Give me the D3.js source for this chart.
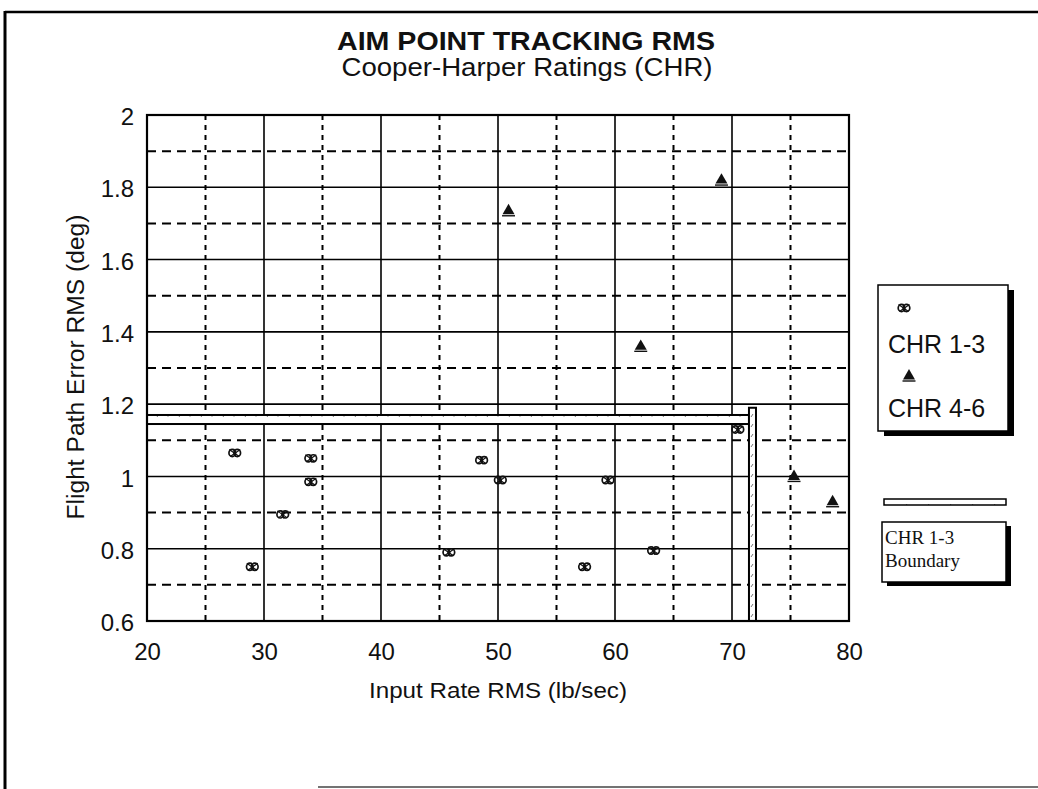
<!DOCTYPE html>
<html>
<head>
<meta charset="utf-8">
<script src="https://cdn.jsdelivr.net/npm/d3@7/dist/d3.min.js"></script>
<style>
  html, body { margin: 0; padding: 0; background: #fff; }
  svg { display: block; }
  text { font-family: "Liberation Sans", Arial, sans-serif; fill: #111; }
  text.serif { font-family: "Liberation Serif", "Times New Roman", serif; }
</style>
</head>
<body>
<svg id="chart" width="1038" height="789"></svg>
<script>
// ---- data ----
const chr13Rate  = [27.5, 29.0, 31.6, 34.0, 34.0, 45.8, 48.6, 50.2, 57.4, 59.4, 63.3, 70.5];
const chr13Error = [1.065, 0.75, 0.895, 1.05, 0.985, 0.79, 1.045, 0.99, 0.75, 0.99, 0.795, 1.13];
const chr46Rate  = [50.9, 62.2, 69.1, 75.3, 78.6];
const chr46Error = [1.735, 1.36, 1.82, 1.0, 0.93];
// CHR 1-3 boundary: error limit band and rate limit band
const boundaryErrorBand = [1.145, 1.17];
const boundaryRateBand  = [71.45, 72.05];
const boundaryRateTop   = 1.19;
const xTicks = [20, 30, 40, 50, 60, 70, 80];
const xMinor = [25, 35, 45, 55, 65, 75];
const yTicks = [0.6, 0.8, 1.0, 1.2, 1.4, 1.6, 1.8, 2.0];
const yMinor = [0.7, 0.9, 1.1, 1.3, 1.5, 1.7, 1.9];

const svg = d3.select("#chart");
const x = d3.scaleLinear().domain([20, 80]).range([147, 849]);
const y = d3.scaleLinear().domain([0.6, 2]).range([621, 115]);

// speckled fill used for the boundary bands
const defs = svg.append("defs");
const pat = defs.append("pattern").attr("id", "speck")
  .attr("patternUnits", "userSpaceOnUse").attr("width", 22).attr("height", 10);
pat.append("rect").attr("width", 22).attr("height", 10).attr("fill", "#fff");
pat.append("line").attr("x1", 3).attr("y1", 7).attr("x2", 5).attr("y2", 4)
  .attr("stroke", "#666").attr("stroke-width", 0.9);
pat.append("circle").attr("cx", 14).attr("cy", 6).attr("r", 0.7).attr("fill", "#777");

// page frame
svg.append("line").attr("x1", 5).attr("x2", 1038).attr("y1", 12).attr("y2", 12)
  .attr("stroke", "#000").attr("stroke-width", 2.5);
svg.append("line").attr("x1", 5).attr("x2", 5).attr("y1", 11).attr("y2", 789)
  .attr("stroke", "#000").attr("stroke-width", 3);
svg.append("line").attr("x1", 318).attr("x2", 1038).attr("y1", 787).attr("y2", 787)
  .attr("stroke", "#444").attr("stroke-width", 1.5);

// titles
svg.append("text").attr("x", 526).attr("y", 50).attr("text-anchor", "middle")
  .attr("font-size", 25).attr("font-weight", "bold")
  .attr("textLength", 378).attr("lengthAdjust", "spacingAndGlyphs")
  .text("AIM POINT TRACKING RMS");
svg.append("text").attr("x", 527).attr("y", 76).attr("text-anchor", "middle")
  .attr("font-size", 25)
  .attr("textLength", 371).attr("lengthAdjust", "spacingAndGlyphs")
  .text("Cooper-Harper Ratings (CHR)");

// grid
const grid = svg.append("g");
grid.selectAll(".vminor").data(xMinor).join("line")
  .attr("x1", d => x(d)).attr("x2", d => x(d)).attr("y1", y(2)).attr("y2", y(0.6))
  .attr("stroke", "#000").attr("stroke-width", 2).attr("stroke-dasharray", "5,5");
grid.selectAll(".hminor").data(yMinor).join("line")
  .attr("y1", d => y(d)).attr("y2", d => y(d)).attr("x1", x(20)).attr("x2", x(80))
  .attr("stroke", "#000").attr("stroke-width", 2).attr("stroke-dasharray", "9,6");
grid.selectAll(".vmajor").data(xTicks.slice(1, -1)).join("line")
  .attr("x1", d => x(d)).attr("x2", d => x(d)).attr("y1", y(2)).attr("y2", y(0.6))
  .attr("stroke", "#000").attr("stroke-width", 1.6);
grid.selectAll(".hmajor").data(yTicks.slice(1, -1)).join("line")
  .attr("y1", d => y(d)).attr("y2", d => y(d)).attr("x1", x(20)).attr("x2", x(80))
  .attr("stroke", "#000").attr("stroke-width", 1.6);

// boundary bands
svg.append("rect")
  .attr("x", x(20)).attr("width", x(boundaryRateBand[0]) - x(20))
  .attr("y", y(boundaryErrorBand[1])).attr("height", y(boundaryErrorBand[0]) - y(boundaryErrorBand[1]))
  .attr("fill", "url(#speck)").attr("stroke", "#000").attr("stroke-width", 2);
svg.append("rect")
  .attr("x", x(boundaryRateBand[0])).attr("width", x(boundaryRateBand[1]) - x(boundaryRateBand[0]))
  .attr("y", y(boundaryRateTop)).attr("height", y(0.6) - y(boundaryRateTop))
  .attr("fill", "url(#speck)").attr("stroke", "#000").attr("stroke-width", 2);

// plot frame
svg.append("rect").attr("x", x(20)).attr("y", y(2))
  .attr("width", x(80) - x(20)).attr("height", y(0.6) - y(2))
  .attr("fill", "none").attr("stroke", "#000").attr("stroke-width", 2.2);

// axes
const xAxis = svg.append("g").attr("transform", `translate(0,${y(0.6)})`)
  .call(d3.axisBottom(x).tickValues(xTicks).tickSize(0).tickPadding(22).tickFormat(d3.format("d")));
const yAxis = svg.append("g").attr("transform", `translate(${x(20)},0)`)
  .call(d3.axisLeft(y).tickValues(yTicks).tickSize(0).tickPadding(13).tickFormat(d => d3.format("")(d)));
[xAxis, yAxis].forEach(a => {
  a.select(".domain").remove();
  a.selectAll("text").attr("font-size", 24).attr("fill", "#111");
});
yAxis.selectAll("text").attr("dy", "0.40em");

svg.append("text").attr("x", 498).attr("y", 698).attr("text-anchor", "middle")
  .attr("font-size", 22).attr("textLength", 258).attr("lengthAdjust", "spacingAndGlyphs")
  .text("Input Rate RMS (lb/sec)");
svg.append("text").attr("transform", "translate(84,367) rotate(-90)").attr("text-anchor", "middle")
  .attr("font-size", 23).attr("textLength", 305).attr("lengthAdjust", "spacingAndGlyphs")
  .text("Flight Path Error RMS (deg)");

// markers
function hatchMarker(g) {
  g.append("ellipse").attr("cx", -2.5).attr("cy", 0).attr("rx", 3.3).attr("ry", 3.6)
    .attr("fill", "none").attr("stroke", "#111").attr("stroke-width", 1.7);
  g.append("ellipse").attr("cx", 2.5).attr("cy", 0).attr("rx", 3.3).attr("ry", 3.6)
    .attr("fill", "none").attr("stroke", "#111").attr("stroke-width", 1.7);
  g.append("path").attr("d", "M-5.5,-3.5L4.5,3.5M-4.5,3.5L5.5,-3.5M-1,-4L1,4")
    .attr("stroke", "#111").attr("stroke-width", 1.2);
}
const tri = d3.symbol().type(d3.symbolTriangle).size(62);
function triMarker(g) {
  g.append("path").attr("d", tri()).attr("fill", "#111");
  g.append("path").attr("d", "M-6.5,5H6.5").attr("stroke", "#111").attr("stroke-width", 1.4);
}

const pts13 = chr13Rate.map((r, i) => ({ r, e: chr13Error[i] }));
const pts46 = chr46Rate.map((r, i) => ({ r, e: chr46Error[i] }));
svg.append("g").selectAll("g").data(pts13).join("g")
  .attr("transform", d => `translate(${x(d.r)},${y(d.e)})`)
  .each(function () { hatchMarker(d3.select(this)); });
svg.append("g").selectAll("g").data(pts46).join("g")
  .attr("transform", d => `translate(${x(d.r)},${y(d.e)})`)
  .each(function () { triMarker(d3.select(this)); });

// legend: series
const lg = svg.append("g");
lg.append("rect").attr("x", 884).attr("y", 290).attr("width", 130).attr("height", 146).attr("fill", "#000");
lg.append("rect").attr("x", 878).attr("y", 285).attr("width", 130).attr("height", 146)
  .attr("fill", "#fff").attr("stroke", "#000").attr("stroke-width", 1.5);
hatchMarker(lg.append("g").attr("transform", "translate(904,308)"));
lg.append("text").attr("x", 888).attr("y", 353).attr("font-size", 25).text("CHR 1-3");
triMarker(lg.append("g").attr("transform", "translate(909,376)"));
lg.append("text").attr("x", 888).attr("y", 417).attr("font-size", 25).text("CHR 4-6");

// legend: boundary
const lb = svg.append("g");
lb.append("rect").attr("x", 884).attr("y", 499).attr("width", 122).attr("height", 6)
  .attr("fill", "url(#speck)").attr("stroke", "#000").attr("stroke-width", 1.5);
lb.append("rect").attr("x", 887).attr("y", 526).attr("width", 124).attr("height", 60).attr("fill", "#000");
lb.append("rect").attr("x", 882).attr("y", 522).attr("width", 124).attr("height", 60)
  .attr("fill", "#fff").attr("stroke", "#000").attr("stroke-width", 1.5);
lb.append("text").attr("class", "serif").attr("x", 885).attr("y", 544).attr("font-size", 19)
  .text("CHR 1-3");
lb.append("text").attr("class", "serif").attr("x", 885).attr("y", 567).attr("font-size", 19)
  .text("Boundary");
</script>
</body>
</html>
